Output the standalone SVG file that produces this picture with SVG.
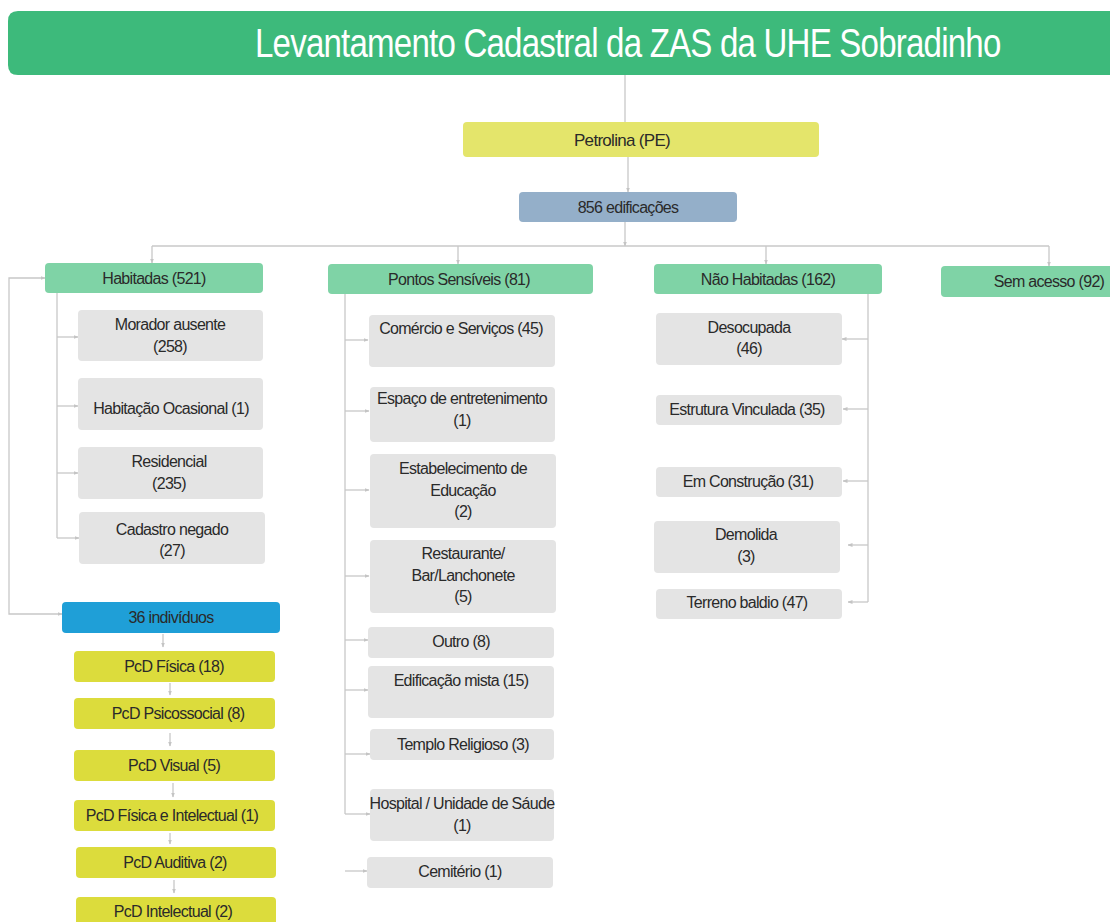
<svg xmlns="http://www.w3.org/2000/svg" width="1110" height="922" viewBox="0 0 1110 922">
<defs>
<marker id="arr" viewBox="0 0 10 10" refX="9" refY="5" markerWidth="5" markerHeight="5" orient="auto-start-reverse" markerUnits="userSpaceOnUse">
<path d="M0,1 L10,5 L0,9 z" fill="#c4c4c4"/>
</marker>
</defs>
<style>
.t{font-family:"Liberation Sans",Arial,sans-serif;font-size:16px;fill:#2a2a2a;text-anchor:middle;letter-spacing:-0.7px}
.title{font-family:"Liberation Sans",Arial,sans-serif;font-size:41px;fill:#ffffff;letter-spacing:-1px}
.g{fill:#e4e4e4}
.cat{fill:#7fd3a6}
.pcd{fill:#dcdc3c}
.c{fill:none;stroke:#c8c8c8;stroke-width:1.3}
.ca{fill:none;stroke:#c8c8c8;stroke-width:1.3;marker-end:url(#arr)}
</style>
<rect width="1110" height="922" fill="#ffffff"/>

<g id="connectors">
<path class="c" d="M625,75 V122"/>
<path class="ca" d="M628,157 V192"/>
<path class="ca" d="M625,222 V246"/>
<path class="c" d="M152,246 H1049"/>
<path class="ca" d="M152,246 V263"/>
<path class="ca" d="M458,246 V264"/>
<path class="ca" d="M766,246 V264"/>
<path class="ca" d="M1049,246 V266"/>
<path class="c" d="M538,266 V287"/>
<path class="c" d="M57,293 V538"/>
<path class="ca" d="M57,337 H78"/>
<path class="ca" d="M57,406 H78"/>
<path class="ca" d="M57,473 H78"/>
<path class="ca" d="M57,538 H79"/>
<path class="ca" d="M45,278 H9 V614 H62" style="marker-start:url(#arr)"/>
<path class="ca" d="M163,634 V647"/>
<path class="ca" d="M170,683 V695"/>
<path class="ca" d="M170,733 V746"/>
<path class="ca" d="M173,783 V797"/>
<path class="ca" d="M170,833 V844"/>
<path class="ca" d="M174,880 V893"/>
<path class="c" d="M345,294 V814"/>
<path class="ca" d="M345,340 H368"/>
<path class="ca" d="M345,411 H369"/>
<path class="ca" d="M345,490 H369"/>
<path class="ca" d="M345,576 H369"/>
<path class="ca" d="M345,640 H368"/>
<path class="ca" d="M345,690 H368"/>
<path class="ca" d="M345,754 H370"/>
<path class="ca" d="M345,814 H370"/>
<path class="ca" d="M345,871 H367"/>
<path class="c" d="M868,294 V602"/>
<path class="ca" d="M868,339 H842"/>
<path class="ca" d="M868,409 H843"/>
<path class="ca" d="M868,481 H843"/>
<path class="ca" d="M868,545 H848"/>
<path class="ca" d="M868,602 H848"/>
</g>

<g id="header">
<path d="M18,11 H1110 V75 H18 Q8,75 8,65 V21 Q8,11 18,11 Z" fill="#3dba7b"/>
<text class="title" transform="translate(255,57) scale(0.807,1)" x="0" y="0">Levantamento Cadastral da ZAS da UHE Sobradinho</text>
</g>

<g id="petrolina">
<rect x="463" y="122" width="356" height="35" rx="4" fill="#e4e56b"/>
<text class="t" x="622" y="146" style="font-size:17px">Petrolina (PE)</text>
</g>
<g id="edificacoes">
<rect x="519" y="192" width="218" height="30" rx="4" fill="#94afc9"/>
<text class="t" x="628" y="213">856 edificações</text>
</g>

<g id="habitadas">
<rect class="cat" x="45" y="263" width="218" height="30" rx="4"/>
<text class="t" x="154" y="284">Habitadas (521)</text>
</g>
<g id="pontos">
<rect class="cat" x="328" y="264" width="265" height="30" rx="4"/>
<text class="t" x="459" y="285">Pontos Sensíveis (81)</text>
</g>
<g id="naohabitadas">
<rect class="cat" x="654" y="264" width="228" height="30" rx="4"/>
<text class="t" x="768" y="285">Não Habitadas (162)</text>
</g>
<g id="semacesso">
<path class="cat" d="M945,266 H1110 V297 H945 Q941,297 941,293 V270 Q941,266 945,266 Z"/>
<text class="t" x="1049" y="287">Sem acesso (92)</text>
</g>

<g id="morador">
<rect class="g" x="78" y="310" width="185" height="51" rx="4"/>
<text class="t" x="170" y="330">Morador ausente</text>
<text class="t" x="170" y="352">(258)</text>
</g>
<g id="ocasional">
<rect class="g" x="78" y="378" width="185" height="52" rx="4"/>
<text class="t" x="171" y="414">Habitação Ocasional (1)</text>
</g>
<g id="residencial">
<rect class="g" x="78" y="447" width="185" height="52" rx="4"/>
<text class="t" x="169" y="467">Residencial</text>
<text class="t" x="169" y="489">(235)</text>
</g>
<g id="negado">
<rect class="g" x="79" y="512" width="186" height="52" rx="4"/>
<text class="t" x="172" y="535">Cadastro negado</text>
<text class="t" x="172" y="556">(27)</text>
</g>

<g id="individuos">
<rect x="62" y="602" width="218" height="31" rx="4" fill="#1f9fd7"/>
<text class="t" x="171" y="623">36 indivíduos</text>
</g>
<g id="pcd1">
<rect class="pcd" x="74" y="651" width="201" height="31" rx="4"/>
<text class="t" x="174" y="672">PcD Física (18)</text>
</g>
<g id="pcd2">
<rect class="pcd" x="74" y="698" width="201" height="31" rx="4"/>
<text class="t" x="178" y="719">PcD Psicossocial (8)</text>
</g>
<g id="pcd3">
<rect class="pcd" x="74" y="750" width="201" height="31" rx="4"/>
<text class="t" x="174" y="771">PcD Visual (5)</text>
</g>
<g id="pcd4">
<rect class="pcd" x="74" y="800" width="201" height="31" rx="4"/>
<text class="t" x="172" y="821">PcD  Física e Intelectual (1)</text>
</g>
<g id="pcd5">
<rect class="pcd" x="76" y="847" width="200" height="31" rx="4"/>
<text class="t" x="175" y="868">PcD Auditiva (2)</text>
</g>
<g id="pcd6">
<rect class="pcd" x="76" y="897" width="200" height="31" rx="4"/>
<text class="t" x="173" y="917">PcD  Intelectual (2)</text>
</g>

<g id="comercio">
<rect class="g" x="369" y="315" width="186" height="52" rx="4"/>
<text class="t" x="461" y="334">Comércio e Serviços (45)</text>
</g>
<g id="entretenimento">
<rect class="g" x="370" y="387" width="185" height="55" rx="4"/>
<text class="t" x="462" y="404">Espaço de entretenimento</text>
<text class="t" x="462" y="426">(1)</text>
</g>
<g id="educacao">
<rect class="g" x="370" y="454" width="186" height="74" rx="4"/>
<text class="t" x="463" y="474">Estabelecimento de</text>
<text class="t" x="463" y="496">Educação</text>
<text class="t" x="463" y="517">(2)</text>
</g>
<g id="restaurante">
<rect class="g" x="370" y="540" width="186" height="73" rx="4"/>
<text class="t" x="463" y="559">Restaurante/</text>
<text class="t" x="463" y="581">Bar/Lanchonete</text>
<text class="t" x="463" y="602">(5)</text>
</g>
<g id="outro">
<rect class="g" x="368" y="627" width="186" height="31" rx="4"/>
<text class="t" x="461" y="647">Outro (8)</text>
</g>
<g id="mista">
<rect class="g" x="368" y="666" width="186" height="52" rx="4"/>
<text class="t" x="461" y="686">Edificação mista (15)</text>
</g>
<g id="templo">
<rect class="g" x="370" y="729" width="184" height="31" rx="4"/>
<text class="t" x="463" y="750">Templo Religioso (3)</text>
</g>
<g id="hospital">
<rect class="g" x="370" y="789" width="184" height="52" rx="4"/>
<text class="t" x="462" y="809">Hospital / Unidade de Sáude</text>
<text class="t" x="462" y="831">(1)</text>
</g>
<g id="cemiterio">
<rect class="g" x="367" y="857" width="186" height="31" rx="4"/>
<text class="t" x="460" y="877">Cemitério (1)</text>
</g>

<g id="desocupada">
<rect class="g" x="656" y="313" width="186" height="52" rx="4"/>
<text class="t" x="749" y="333">Desocupada</text>
<text class="t" x="749" y="354">(46)</text>
</g>
<g id="vinculada">
<rect class="g" x="656" y="395" width="186" height="30" rx="4"/>
<text class="t" x="747" y="415">Estrutura Vinculada (35)</text>
</g>
<g id="construcao">
<rect class="g" x="656" y="467" width="186" height="30" rx="4"/>
<text class="t" x="748" y="487">Em Construção (31)</text>
</g>
<g id="demolida">
<rect class="g" x="654" y="521" width="186" height="52" rx="4"/>
<text class="t" x="746" y="540">Demolida</text>
<text class="t" x="746" y="562">(3)</text>
</g>
<g id="terreno">
<rect class="g" x="656" y="589" width="186" height="30" rx="4"/>
<text class="t" x="747" y="608">Terreno baldio (47)</text>
</g>
</svg>
